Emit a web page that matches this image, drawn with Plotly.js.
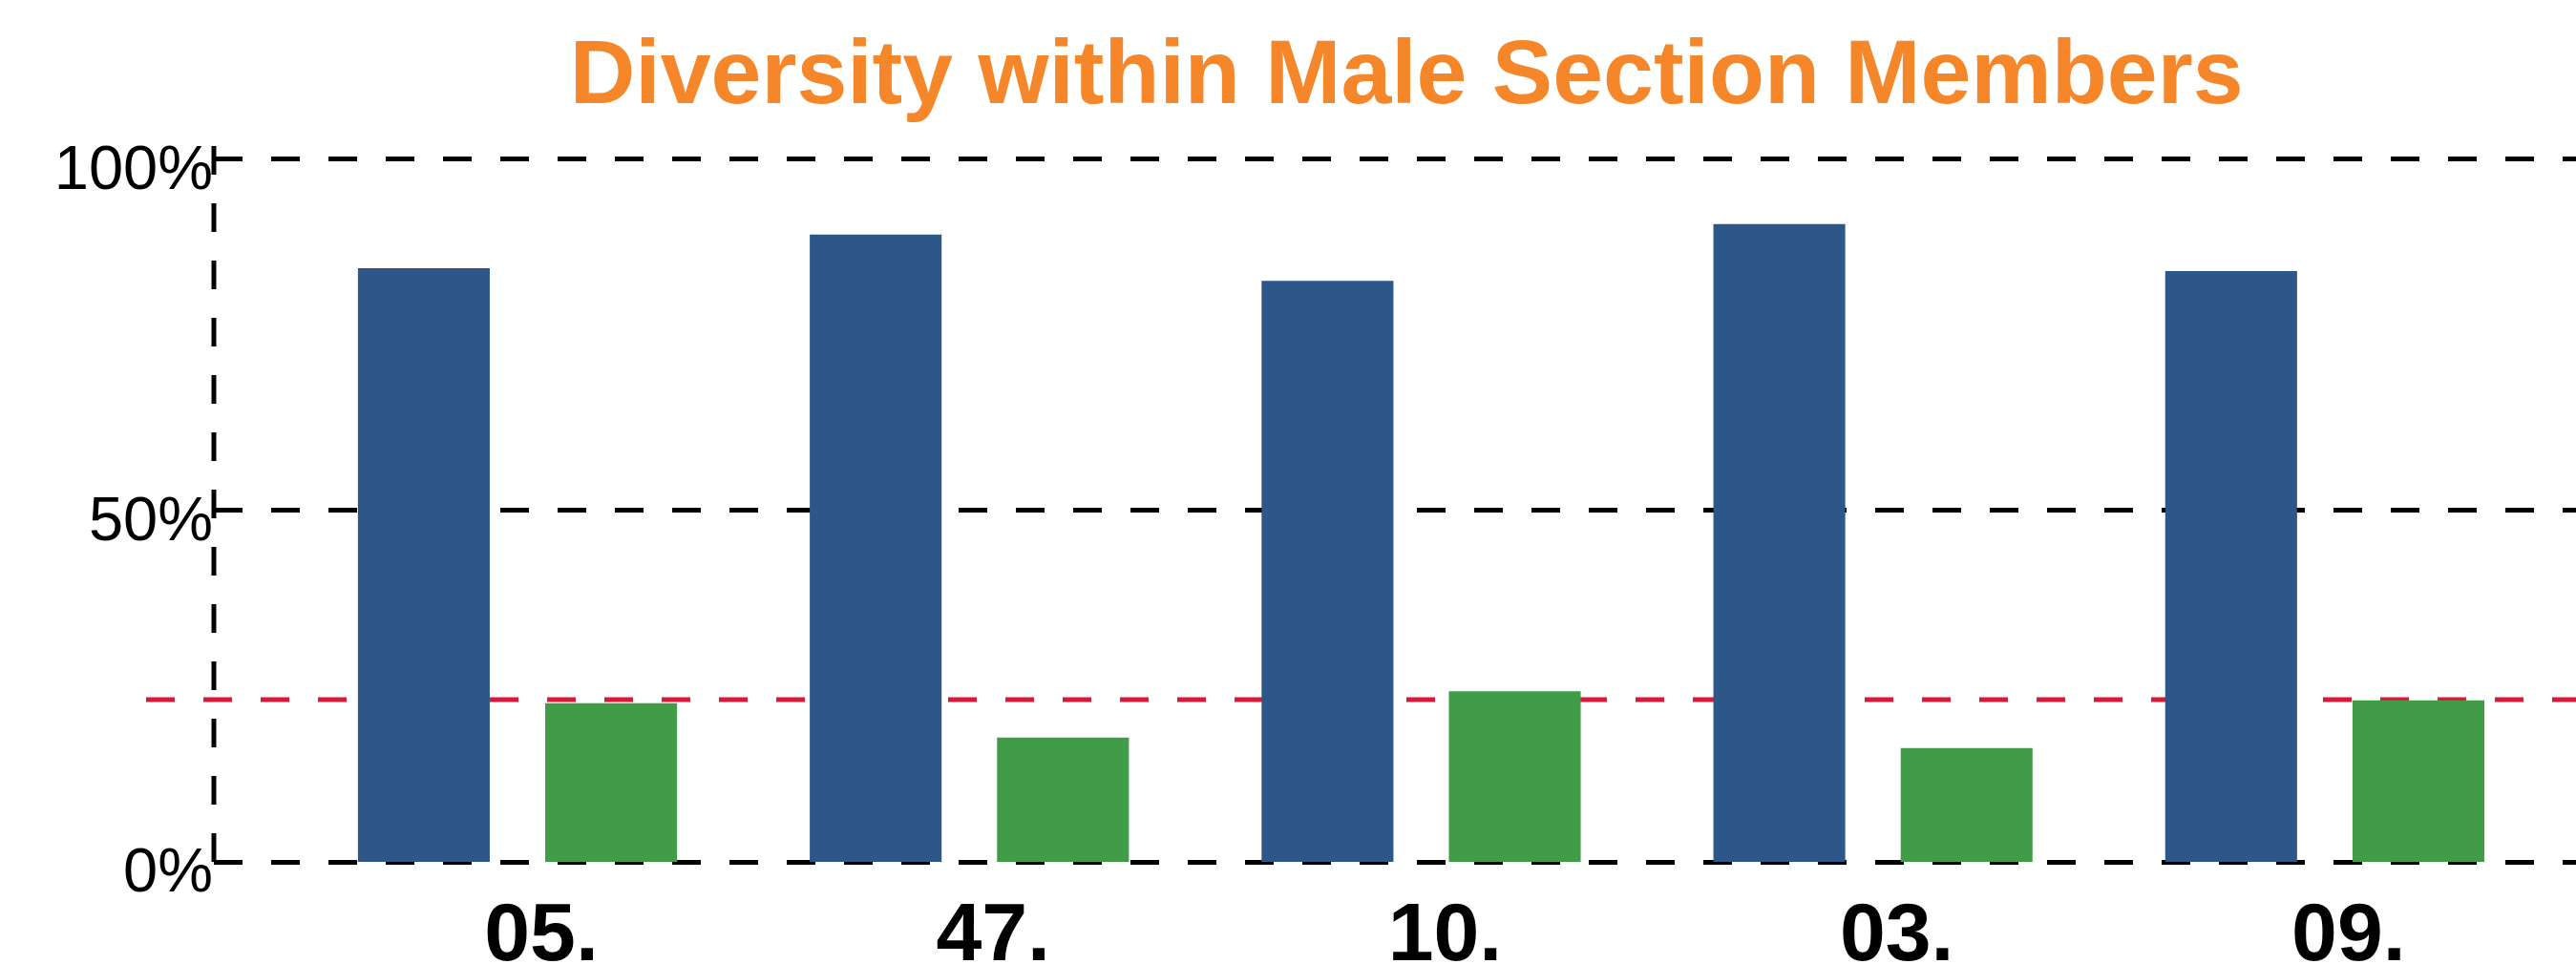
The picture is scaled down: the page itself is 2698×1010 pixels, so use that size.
<!DOCTYPE html>
<html>
<head>
<meta charset="utf-8">
<script src="https://cdn.plot.ly/plotly-3.0.1.min.js"></script>
<style>
  html, body { margin: 0; padding: 0; background: #ffffff; overflow: hidden; }
  #chart { width: 2698px; height: 1010px; }
</style>
</head>
<body>
<div id="chart"></div>
<script>
// ---- Data ----
const categories = ["05.", "47.", "10.", "03.", "09."];
const blueValues = [84.5, 89.3, 82.7, 90.8, 84.1];
const greenValues = [22.6, 17.7, 24.3, 16.2, 23.0];
const referenceLine = [23.1];
const yTickValues = [0, 50, 100];
const yTickLabels = ["0%", "50%", "100%"];
const chartTitle = "Diversity within Male Section Members";

// ---- Styles ----
const FONT = "Liberation Sans, Arial, Helvetica, sans-serif";
const BLUE = "#2D5788";
const GREEN = "#419C47";
const RED = "#D7193A";
const ORANGE = "#F5862A";
const DASH = "30px,30px";

const traces = [
  { type: "bar", x: categories, y: blueValues, marker: { color: BLUE }, hoverinfo: "skip", showlegend: false },
  { type: "bar", x: categories, y: greenValues, marker: { color: GREEN }, hoverinfo: "skip", showlegend: false }
];

const layout = {
  width: 2698,
  height: 1010,
  paper_bgcolor: "#ffffff",
  plot_bgcolor: "rgba(0,0,0,0)",
  margin: { l: 224, r: 0, t: 153, b: 105, pad: 0 },
  barmode: "group",
  bargap: 0.171,
  bargroupgap: 0.296,
  title: {
    text: chartTitle,
    font: { family: FONT, size: 95, color: ORANGE, weight: "bold" },
    xref: "paper", x: 0.5049, xanchor: "center",
    yref: "container", y: 0.9257, yanchor: "middle"
  },
  xaxis: {
    type: "category",
    range: [-0.672, 4.556],
    showgrid: false, showline: false, zeroline: false,
    ticks: "",
    ticklabelshift: 25,
    ticklabelstandoff: 14,
    tickfont: { family: FONT, size: 86, color: "#000000", weight: "bold" },
    automargin: false, fixedrange: true
  },
  yaxis: {
    range: [-0.272, 101.9],
    tickvals: yTickValues,
    ticktext: yTickLabels,
    showgrid: true, gridcolor: "#000000", gridwidth: 5, griddash: DASH,
    showline: false, zeroline: false,
    ticks: "",
    ticklabelshift: 8,
    tickfont: { family: FONT, size: 65, color: "#000000" },
    automargin: false, fixedrange: true
  },
  shapes: [
    { type: "line", xref: "paper", yref: "paper", x0: 0, x1: 0, y0: 0.00266, y1: 1,
      line: { color: "#000000", width: 5, dash: DASH }, layer: "above" },
    { type: "line", xref: "paper", yref: "y", x0: -0.0287, x1: 1,
      y0: referenceLine[0], y1: referenceLine[0],
      line: { color: RED, width: 5, dash: DASH }, layer: "below" }
  ]
};

Plotly.newPlot("chart", traces, layout, { displayModeBar: false, staticPlot: true });
</script>
</body>
</html>
